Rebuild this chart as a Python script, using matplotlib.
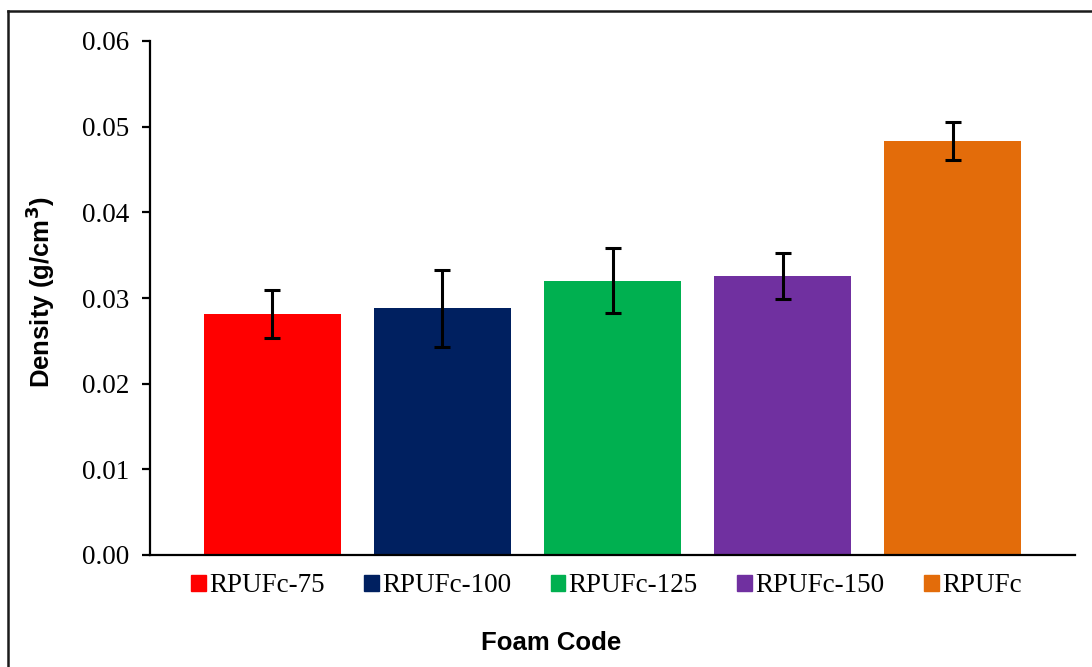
import matplotlib
matplotlib.use("Agg")
import matplotlib.pyplot as plt
from matplotlib.lines import Line2D
import numpy as np

# Foam density data
foam_codes = ["RPUFc-75", "RPUFc-100", "RPUFc-125", "RPUFc-150", "RPUFc"]
density = [0.0281, 0.0288, 0.0320, 0.0326, 0.0483]
density_err = [0.0028, 0.0045, 0.0038, 0.0027, 0.0022]
bar_colors = ["#FF0000", "#002060", "#00B050", "#7030A0", "#E36C0A"]
y_ticks = [0.00, 0.01, 0.02, 0.03, 0.04, 0.05, 0.06]

W, H = 1092, 667
fig = plt.figure(figsize=(W / 100, H / 100), dpi=100)
ax = fig.add_axes([150 / W, 1 - 555 / H, (1075 - 150) / W, (555 - 41) / H])

x = np.arange(len(foam_codes))
ax.bar(x, density, width=0.81, color=bar_colors, zorder=2)
ax.errorbar(x, density, yerr=density_err, fmt="none", ecolor="black",
            elinewidth=2.2, capsize=5.5, capthick=2.2, zorder=3)

ax.set_xlim(-0.72, 4.72)
ax.set_ylim(0, 0.06)
ax.set_yticks(y_ticks)
ax.set_yticklabels([f"{t:.2f}" for t in y_ticks],
                   family="Liberation Serif", fontsize=19.5)
ax.set_xticks([])

for side in ("top", "right"):
    ax.spines[side].set_visible(False)
for side in ("left", "bottom"):
    ax.spines[side].set_linewidth(1.6)
    ax.spines[side].set_color("black")
ax.tick_params(axis="y", direction="out", length=6, width=1.6, pad=9)

# Legend beneath the plot area
handles = [plt.Rectangle((0, 0), 1, 1, color=c) for c in bar_colors]
fig.legend(handles, foam_codes, loc="center left", ncol=5,
           bbox_to_anchor=(191 / W, 1 - 586 / H), frameon=False,
           prop={"family": "Liberation Serif", "size": 19.5},
           handlelength=0.55, handleheight=0.55, handletextpad=0.12,
           columnspacing=1.45, borderpad=0, borderaxespad=0)

fig.text(551 / W, 1 - 643 / H, "Foam Code", ha="center", va="center",
         family="Liberation Sans", fontweight="bold", fontsize=18.5)
fig.text(40 / W, 1 - 292 / H, "Density (g/cm$^\\mathbf{3}$)", ha="center", va="center",
         rotation=90, family="Liberation Sans", fontweight="bold", fontsize=18.5)

# Frame lines along top and left of the figure
fig.add_artist(Line2D([8 / W, 1.0], [1 - 11 / H, 1 - 11 / H],
                      transform=fig.transFigure, color="#1a1a1a", linewidth=1.8))
fig.add_artist(Line2D([8 / W, 8 / W], [0.0, 1 - 11 / H],
                      transform=fig.transFigure, color="#1a1a1a", linewidth=1.8))

fig.savefig("out.png", dpi=100, facecolor="white")
